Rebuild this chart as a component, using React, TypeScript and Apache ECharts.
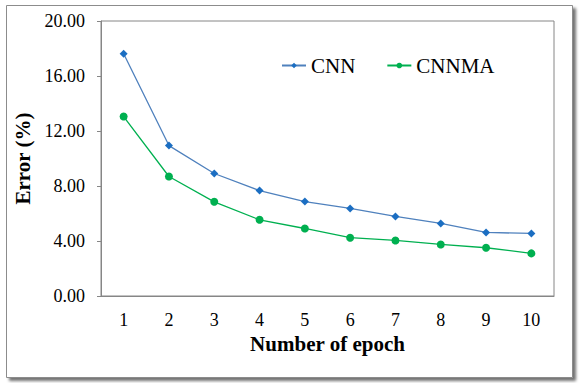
import React, { useEffect, useRef } from "react";
import * as echarts from "echarts";

const epochs = ["1", "2", "3", "4", "5", "6", "7", "8", "9", "10"];
const cnn = [17.62, 10.94, 8.91, 7.67, 6.87, 6.37, 5.79, 5.28, 4.62, 4.55];
const cnnma = [13.05, 8.69, 6.85, 5.54, 4.91, 4.24, 4.04, 3.75, 3.51, 3.1];
const yTicks = { min: 0, max: 20, interval: 4 };

const FONT = "Liberation Serif";

export default function App() {
  const ref = useRef<HTMLDivElement>(null);
  useEffect(() => {
    if (!ref.current) return;
    const chart = echarts.init(ref.current, undefined, { renderer: "svg" });
    chart.setOption({
      animation: false,
      backgroundColor: "#ffffff",
      textStyle: { fontFamily: FONT },
      graphic: [
        {
          type: "rect",
          z: -10,
          silent: true,
          shape: { x: 6.5, y: 5.5, width: 566, height: 372 },
          style: {
            fill: "#ffffff",
            stroke: "#8c8c8c",
            lineWidth: 1,
            shadowBlur: 3,
            shadowOffsetX: 3,
            shadowOffsetY: 3,
            shadowColor: "rgba(0,0,0,0.55)",
          },
        },
      ],
      grid: {
        left: 101,
        right: 26,
        top: 21,
        bottom: 87,
        show: true,
        borderColor: "#868686",
        borderWidth: 1,
        backgroundColor: "transparent",
      },
      legend: {
        left: 276,
        top: 50,
        itemWidth: 24,
        itemHeight: 7,
        itemGap: 31,
        itemTextGap: 3,
        textStyle: { fontFamily: FONT, fontSize: 21, color: "#000" },
        data: ["CNN", "CNNMA"],
      },
      xAxis: {
        type: "category",
        data: epochs,
        boundaryGap: true,
        axisLine: { lineStyle: { color: "#868686" } },
        axisTick: { show: false },
        axisLabel: { fontFamily: FONT, fontSize: 18, color: "#000", margin: 15 },
        splitLine: { show: false },
        name: "Number of epoch",
        nameLocation: "middle",
        nameGap: 37,
        nameTextStyle: { fontFamily: FONT, fontSize: 21, fontWeight: "bold", color: "#000" },
      },
      yAxis: {
        type: "value",
        min: yTicks.min,
        max: yTicks.max,
        interval: yTicks.interval,
        axisLine: { show: true, lineStyle: { color: "#868686" } },
        axisTick: { show: true, length: 4, lineStyle: { color: "#868686" } },
        axisLabel: {
          fontFamily: FONT,
          fontSize: 18,
          color: "#000",
          margin: 16,
          formatter: (v: number) => v.toFixed(2),
        },
        splitLine: { show: false },
        name: "Error (%)",
        nameLocation: "middle",
        nameGap: 61,
        nameTextStyle: { fontFamily: FONT, fontSize: 21, fontWeight: "bold", color: "#000" },
      },
      series: [
        {
          name: "CNN",
          type: "line",
          data: cnn,
          symbol: "diamond",
          symbolSize: 8,
          lineStyle: { color: "#4f81bd", width: 1.3 },
          itemStyle: { color: "#1b6ec2" },
        },
        {
          name: "CNNMA",
          type: "line",
          data: cnnma,
          symbol: "circle",
          symbolSize: 8,
          lineStyle: { color: "#00b050", width: 1.3 },
          itemStyle: { color: "#00b050" },
        },
      ],
    });
    return () => chart.dispose();
  }, []);
  return (
    <div
      ref={ref}
      style={{ position: "fixed", left: 0, top: 0, width: 580, height: 383 }}
    />
  );
}
